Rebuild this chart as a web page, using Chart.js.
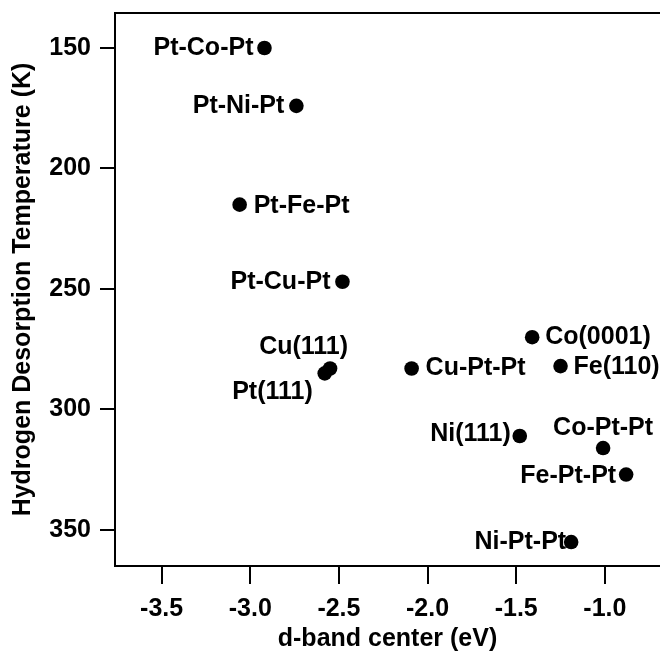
<!DOCTYPE html>
<html>
<head>
<meta charset="utf-8">
<script src="https://cdn.jsdelivr.net/npm/chart.js@4.4.1/dist/chart.umd.min.js"></script>
<style>
  html, body { margin: 0; padding: 0; background: #fff; }
  canvas { display: block; }
</style>
</head>
<body>
<canvas id="c" width="660" height="652"></canvas>
<script>
// ---- data ----
const surfaceNames = ['Pt-Co-Pt','Pt-Ni-Pt','Pt-Fe-Pt','Pt-Cu-Pt','Cu(111)','Pt(111)','Cu-Pt-Pt','Co(0001)','Fe(110)','Ni(111)','Co-Pt-Pt','Fe-Pt-Pt','Ni-Pt-Pt'];
const dBandCenter = [-2.92, -2.74, -3.06, -2.48, -2.55, -2.58, -2.09, -1.41, -1.25, -1.48, -1.01, -0.88, -1.19];
const desorptionTemp = [150, 174, 215, 247, 283, 285, 283, 270, 282, 311, 316, 327, 355];
const xTicks = [-3.5, -3.0, -2.5, -2.0, -1.5, -1.0];
const yTicks = [150, 200, 250, 300, 350];
const xTitle = 'd-band center (eV)';
const yTitle = 'Hydrogen Desorption Temperature (K)';

// ---- styling: label placement relative to its point (pixels) ----
const labelStyle = [
  {align:'right', dx:-11, dy:0},
  {align:'right', dx:-12, dy:0},
  {align:'left',  dx:14,  dy:1},
  {align:'right', dx:-12, dy:0},
  {align:'right', dx:18,  dy:-21},
  {align:'right', dx:-12, dy:19},
  {align:'left',  dx:14,  dy:0},
  {align:'left',  dx:13,  dy:0},
  {align:'left',  dx:13,  dy:1},
  {align:'right', dx:-9,  dy:-2},
  {align:'center',dx:0,   dy:-20},
  {align:'right', dx:-10, dy:2},
  {align:'right', dx:-5,  dy:0}
];
const FONT = "'Liberation Sans', Arial, sans-serif";

const framePlugin = {
  id: 'frame',
  afterDraw(chart) {
    const {ctx, chartArea} = chart;
    ctx.save();
    ctx.strokeStyle = '#000';
    ctx.lineWidth = 2;
    ctx.beginPath();
    ctx.moveTo(chartArea.left - 1, chartArea.top);
    ctx.lineTo(chartArea.right + 2, chartArea.top);
    ctx.stroke();
    ctx.restore();
  }
};

const labelPlugin = {
  id: 'pointLabels',
  afterDatasetsDraw(chart) {
    const {ctx} = chart;
    const meta = chart.getDatasetMeta(0);
    ctx.save();
    ctx.fillStyle = '#000';
    ctx.font = 'bold 25px ' + FONT;
    ctx.textBaseline = 'middle';
    meta.data.forEach((pt, i) => {
      const st = labelStyle[i];
      ctx.textAlign = st.align;
      ctx.fillText(surfaceNames[i], pt.x + st.dx, pt.y + st.dy);
    });
    ctx.restore();
  }
};

const tickFont = {family: FONT, size: 25, weight: 'bold'};
const titleFont = {family: FONT, size: 25, weight: 'bold', lineHeight: 1.2};

new Chart(document.getElementById('c'), {
  type: 'scatter',
  data: {
    datasets: [{
      data: dBandCenter.map((x, i) => ({x: x, y: desorptionTemp[i]})),
      backgroundColor: '#000',
      borderColor: '#000',
      borderWidth: 0,
      pointRadius: 7.3,
      pointHoverRadius: 7.3,
      clip: false
    }]
  },
  options: {
    responsive: false,
    animation: false,
    events: [],
    layout: {autoPadding: false, padding: {top: 13, right: 0, bottom: 0, left: 0}},
    plugins: {legend: {display: false}, tooltip: {enabled: false}},
    scales: {
      x: {
        type: 'linear',
        position: 'bottom',
        min: -3.763,
        max: -0.689,
        afterBuildTicks: s => { s.ticks = xTicks.map(v => ({value: v})); },
        afterFit: s => { s.height = 86; s.paddingLeft = 0; s.paddingRight = 0; },
        grid: {drawOnChartArea: false, drawTicks: true, tickLength: 18, color: '#000', lineWidth: 2},
        border: {display: true, color: '#000', width: 2},
        ticks: {color: '#000', font: tickFont, padding: 10, maxRotation: 0, autoSkip: false,
                callback: v => Number(v).toFixed(1)},
        title: {display: true, text: xTitle, color: '#000', font: titleFont, padding: {top: 0, bottom: -2}}
      },
      y: {
        type: 'linear',
        reverse: true,
        min: 135.48,
        max: 364.94,
        afterBuildTicks: s => { s.ticks = yTicks.map(v => ({value: v})); },
        afterFit: s => { s.width = 115; s.paddingTop = 0; s.paddingBottom = 0; },
        grid: {drawOnChartArea: false, drawTicks: true, tickLength: 15, color: '#000', lineWidth: 2},
        border: {display: true, color: '#000', width: 2},
        ticks: {color: '#000', font: tickFont, padding: 9, autoSkip: false,
                callback: v => String(v)},
        title: {display: true, text: yTitle, color: '#000', font: titleFont, padding: {top: 8, bottom: 0}}
      }
    }
  },
  plugins: [framePlugin, labelPlugin]
});
</script>
</body>
</html>
